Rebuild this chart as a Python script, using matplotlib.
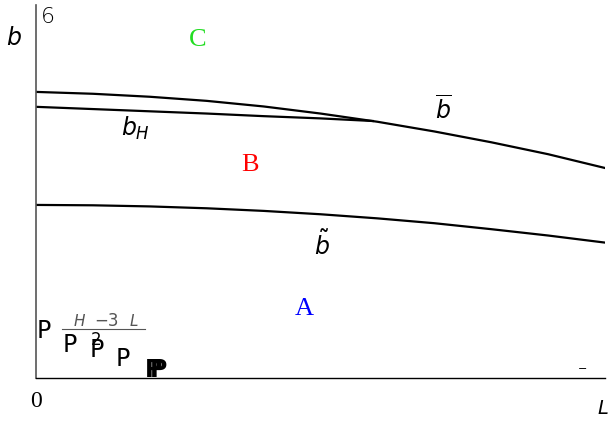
import matplotlib.pyplot as plt

# values (x = L from 0 to 1, y = b from 0 to 1)
bbar_x = [0.0, 0.1, 0.2, 0.3, 0.4, 0.5, 0.6, 0.7, 0.8, 0.9, 1.0]
bbar_y = [0.767, 0.762, 0.754, 0.743, 0.728, 0.709, 0.687, 0.661, 0.632, 0.600, 0.563]

bH_x = [0.0, 0.1, 0.2, 0.3, 0.4, 0.5, 0.592]
bH_y = [0.727, 0.721, 0.715, 0.709, 0.702, 0.696, 0.689]

btil_x = [0.0, 0.1, 0.2, 0.3, 0.4, 0.5, 0.6, 0.7, 0.8, 0.9, 1.0]
btil_y = [0.464, 0.463, 0.460, 0.455, 0.448, 0.439, 0.428, 0.415, 0.399, 0.382, 0.363]

W, H = 610, 423


def fx(px):
    return px / W


def fy(py):
    return 1 - py / H


fig = plt.figure(figsize=(6.1, 4.23), dpi=100)
ax = fig.add_axes([fx(36), fy(378), 569 / W, 373 / H])
ax.set_xlim(0, 1)
ax.set_ylim(0, 1)
for s in ["top", "right"]:
    ax.spines[s].set_visible(False)
ax.spines["left"].set_color("#555555")
ax.spines["bottom"].set_color("black")
ax.spines["left"].set_linewidth(1.2)
ax.spines["bottom"].set_linewidth(1.0)
ax.set_xticks([])
ax.set_yticks([])

ax.plot(bbar_x, bbar_y, color="black", lw=1.6)
ax.plot(bH_x, bH_y, color="black", lw=1.6)
ax.plot(btil_x, btil_y, color="black", lw=1.6)

serif = "Liberation Serif"
fig.text(fx(198), fy(40), "C", color="#22dd22", fontsize=19, family=serif, ha="center", va="center")
fig.text(fx(250), fy(165), "B", color="red", fontsize=19, family=serif, ha="center", va="center")
fig.text(fx(304), fy(309), "A", color="blue", fontsize=19, family=serif, ha="center", va="center")

fig.text(fx(135), fy(128), r"$b_H$", fontsize=17, ha="center", va="center")
fig.text(fx(443), fy(110), r"$\overline{b}$", fontsize=17, ha="center", va="center")
fig.text(fx(322), fy(245), r"$\tilde{b}$", fontsize=17, ha="center", va="center")

fig.text(fx(14), fy(38), r"$b$", fontsize=17, ha="center", va="center")
fig.text(fx(48), fy(17), "6", fontsize=16, ha="center", va="center",
         family="DejaVu Sans", fontweight="light")
fig.text(fx(36), fy(401), "0", fontsize=17, family=serif, ha="center", va="center")
fig.text(fx(603), fy(408), r"$L$", fontsize=14, ha="center", va="center")
fig.text(fx(583), fy(369), "−", fontsize=8, ha="center", va="center")

# garbled formula in the lower left corner
fig.text(fx(37), fy(338), "P", fontsize=17, ha="left", va="baseline")
fig.text(fx(73), fy(326), r"$H$", fontsize=11, color="#555555", ha="left", va="baseline")
fig.text(fx(94), fy(326), "−3", fontsize=12, color="#555555", ha="left", va="baseline")
fig.text(fx(129), fy(326), r"$L$", fontsize=11, color="#555555", ha="left", va="baseline")
fig.add_artist(plt.Line2D([fx(62), fx(145)], [fy(329), fy(329)], color="#555555", lw=0.8))
fig.text(fx(63), fy(352), "P", fontsize=17, ha="left", va="baseline")
fig.text(fx(91), fy(345), "2", fontsize=12, ha="left", va="baseline")
fig.text(fx(90), fy(357), "P", fontsize=17, ha="left", va="baseline")
fig.text(fx(116), fy(366), "P", fontsize=17, ha="left", va="baseline")
fig.text(fx(145), fy(377), "P", fontsize=17, ha="left", va="baseline", fontweight="bold")
fig.text(fx(150), fy(377), "P", fontsize=17, ha="left", va="baseline", fontweight="bold")

fig.savefig("out.png", dpi=100)
